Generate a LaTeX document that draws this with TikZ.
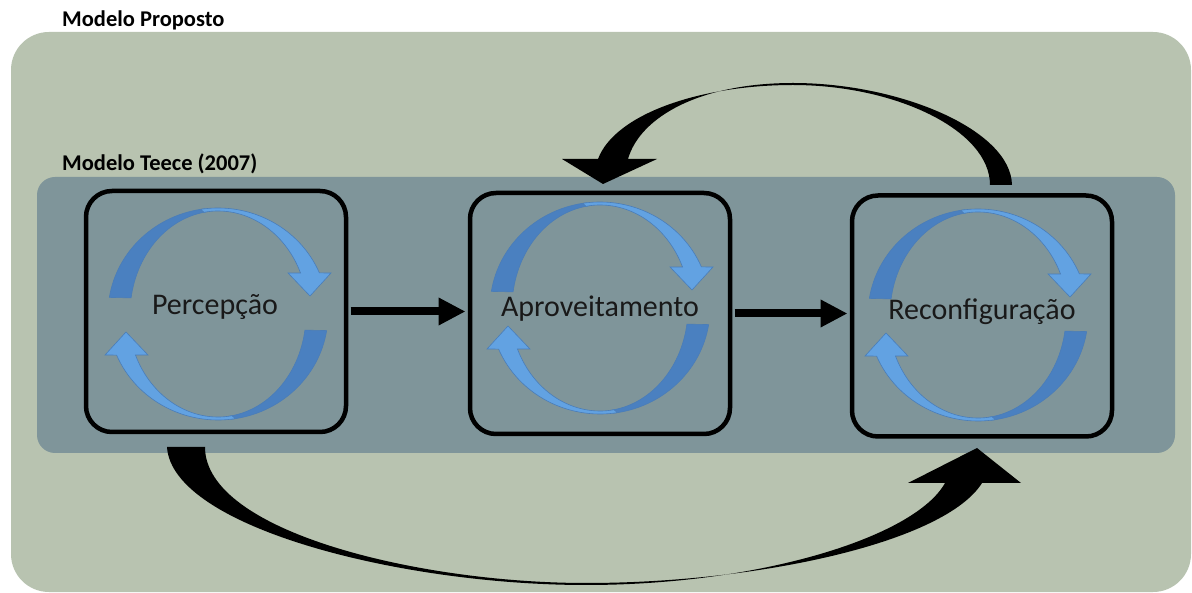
\documentclass[tikz,border=0pt]{standalone}
\usepackage{fontspec}
\setmainfont{Carlito}
\usetikzlibrary{arrows.meta,calc}
\definecolor{outerbg}{HTML}{B8C3B0}
\definecolor{innerbg}{HTML}{7F959A}
\definecolor{cycdark}{HTML}{4A80C0}
\definecolor{cyclight}{HTML}{62A2E2}
\definecolor{cycline}{HTML}{4A7DB8}
\begin{document}
\begin{tikzpicture}[x=1pt,y=1pt,
  stage/.style={draw=black, line width=4.5pt, rounded corners=26pt, minimum width=260pt, minimum height=241pt, inner sep=0pt},
  title/.style={font=\fontsize{22.5}{27}\selectfont\bfseries, anchor=base west, inner sep=0pt},
  stagelabel/.style={font=\fontsize{30}{36}\selectfont, anchor=base, inner sep=0pt, text=black!90},
  flow/.style={line width=8pt, -{Triangle[length=27pt,width=26pt]}, shorten <=2.25pt, shorten >=2.25pt},
  bigarrow/.style={fill=black},
  halfdark/.style={fill=cycdark, draw=cycline, line width=0.6pt},
  halflight/.style={fill=cyclight, draw=cycline, line width=0.6pt},
  cyc/.pic={
    \foreach \r in {0,180}{
      \begin{scope}[rotate=\r]
        \path[halfdark] (171:110 and 106) arc[start angle=171,end angle=97,x radius=110,y radius=106]
          -- (97:88 and 103) arc[start angle=97,end angle=171,x radius=88,y radius=103] -- cycle;
        \path[halflight] (99:110 and 106) arc[start angle=99,end angle=22.8,x radius=110,y radius=106]
          -- (113,41) -- (92,18) -- (70,41)
          -- (23.45:90 and 103) arc[start angle=23.45,end angle=99,x radius=90,y radius=103] -- cycle;
      \end{scope}
    }
  }
]
\useasboundingbox (0,0) rectangle (1192,592);
\fill[white] (0,0) rectangle (1192,592);
\fill[outerbg, rounded corners=38pt] (11,0) rectangle (1191,560);
\node[title] (tp) at (62,565) {Modelo Proposto};
\fill[innerbg, rounded corners=18pt] (37,139) rectangle (1175,415);
\node[title] (tt) at (62,421) {Modelo Teece (2007)};

% big feedback arrows
\fill[bigarrow] (1012,407) .. controls (1011,462) and (900,509) .. (793,509)
  .. controls (700,509) and (640,475) .. (628,433) -- (657,433) -- (603,408) -- (562,433) -- (598,433)
  .. controls (615,478) and (700,507) .. (793,507)
  .. controls (895,507) and (990,462) .. (990,407) -- cycle;
\fill[bigarrow] (167,145) .. controls (172,65) and (400,7) .. (586,7)
  .. controls (760,7) and (915,55) .. (945,109) -- (908,109) -- (977,144) -- (1021,109) -- (982,109)
  .. controls (945,50) and (760,9) .. (586,9)
  .. controls (420,9) and (205,60) .. (205,145) -- cycle;

% stages
\node[stage] (b1) at (216,280.5) {};
\node[stage] (b2) at (600,278.5) {};
\node[stage] (b3) at (982,276) {};
\pic at (218,278) {cyc};
\pic at (600,284) {cyc};
\pic at (978,277) {cyc};
\node[stagelabel] (l1) at (215,277) {Percepção};
\node[stagelabel] (l2) at (600,275) {Aproveitamento};
\node[stagelabel] (l3) at (982,272) {Reconfiguração};

\draw[flow] (b1.east) -- (b1.east -| b2.west);
\draw[flow] (b2.east) -- (b2.east -| b3.west);
\end{tikzpicture}
\end{document}
